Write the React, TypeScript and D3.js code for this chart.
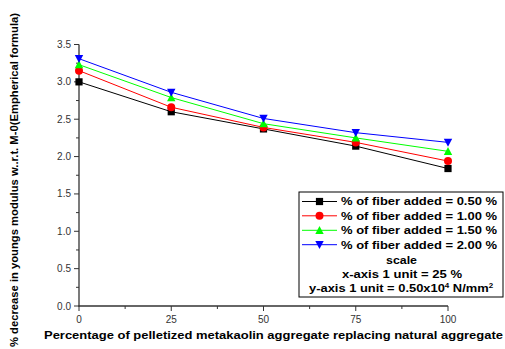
import React from "react";
import * as d3 from "d3";

const xValues = [0, 25, 50, 75, 100];
const fiber050 = [3.0, 2.6, 2.37, 2.14, 1.84];
const fiber100 = [3.15, 2.66, 2.39, 2.19, 1.94];
const fiber150 = [3.23, 2.79, 2.44, 2.25, 2.07];
const fiber200 = [3.31, 2.86, 2.51, 2.32, 2.19];
const seriesNames = [
  "% of fiber added = 0.50 %",
  "% of fiber added = 1.00 %",
  "% of fiber added = 1.50 %",
  "% of fiber added = 2.00 %",
];
const xTicks = [0, 25, 50, 75, 100];
const yTicks = [0, 0.5, 1.0, 1.5, 2.0, 2.5, 3.0, 3.5];

const W = 505;
const H = 349;
const FONT = "Liberation Sans, Arial, sans-serif";

type Shape = "square" | "circle" | "up" | "down";

function Marker({ shape, cx, cy, color }: { shape: Shape; cx: number; cy: number; color: string }) {
  const s = 3.6;
  if (shape === "square")
    return <rect x={cx - s} y={cy - s} width={2 * s} height={2 * s} fill={color} />;
  if (shape === "circle") return <circle cx={cx} cy={cy} r={s + 0.4} fill={color} />;
  if (shape === "up")
    return (
      <path d={`M${cx},${cy - s - 0.8}L${cx + s + 0.6},${cy + s}L${cx - s - 0.6},${cy + s}Z`} fill={color} />
    );
  return (
    <path d={`M${cx},${cy + s + 0.8}L${cx + s + 0.6},${cy - s}L${cx - s - 0.6},${cy - s}Z`} fill={color} />
  );
}

export default function App() {
  const x = d3.scaleLinear().domain([0, 100]).range([79, 448]);
  const y = d3.scaleLinear().domain([0, 3.5]).range([306, 44.5]);
  const series = [
    { values: fiber050, color: "#000000", shape: "square" as Shape },
    { values: fiber100, color: "#ff0000", shape: "circle" as Shape },
    { values: fiber150, color: "#00ff00", shape: "up" as Shape },
    { values: fiber200, color: "#0000ff", shape: "down" as Shape },
  ];
  const line = d3
    .line<number>()
    .x((_, i) => x(xValues[i]))
    .y((d) => y(d));

  const xMinor = d3.range(12.5, 100, 25);
  const yMinor = d3.range(0.25, 3.5, 0.5);
  const axisColor = "#333";

  const lg = { x: 299, y: 192, w: 204, h: 105 };
  const rowY = [201.5, 215.8, 230.3, 244.7];
  const adj = "spacingAndGlyphs";

  return (
    <svg width={W} height={H} style={{ position: "absolute", left: 0, top: 0, background: "#fff" }}>
      <rect x={0} y={0} width={W} height={H} fill="#fff" />
      {/* axes */}
      <line x1={x(0)} x2={x(0)} y1={y(0) + 0.5} y2={y(3.5)} stroke={axisColor} strokeWidth={1.3} />
      <line x1={x(0) - 0.5} x2={x(100)} y1={y(0)} y2={y(0)} stroke={axisColor} strokeWidth={1.3} />
      {yTicks.map((t) => (
        <g key={"y" + t}>
          <line x1={x(0) - 5} x2={x(0)} y1={y(t)} y2={y(t)} stroke={axisColor} strokeWidth={1} />
          <text x={x(0) - 8} y={y(t) + 3.5} textAnchor="end" fontFamily={FONT} fontSize={10} fill="#333">
            {t.toFixed(1)}
          </text>
        </g>
      ))}
      {yMinor.map((t) => (
        <line key={"ym" + t} x1={x(0) - 3} x2={x(0)} y1={y(t)} y2={y(t)} stroke={axisColor} strokeWidth={1} />
      ))}
      {xTicks.map((t) => (
        <g key={"x" + t}>
          <line x1={x(t)} x2={x(t)} y1={y(0)} y2={y(0) + 5} stroke={axisColor} strokeWidth={1} />
          <text x={x(t)} y={y(0) + 17} textAnchor="middle" fontFamily={FONT} fontSize={10} fill="#333">
            {t}
          </text>
        </g>
      ))}
      {xMinor.map((t) => (
        <line key={"xm" + t} x1={x(t)} x2={x(t)} y1={y(0)} y2={y(0) + 3} stroke={axisColor} strokeWidth={1} />
      ))}
      {/* series */}
      {series.map((s, k) => (
        <g key={"s" + k}>
          <path d={line(s.values) || ""} fill="none" stroke={s.color} strokeWidth={1} />
          {s.values.map((v, i) => (
            <Marker key={i} shape={s.shape} cx={x(xValues[i])} cy={y(v)} color={s.color} />
          ))}
        </g>
      ))}
      {/* axis titles */}
      <text
        x={44}
        y={338.5}
        textLength={459}
        lengthAdjust={adj}
        fontFamily={FONT}
        fontSize={11}
        fontWeight="bold"
        fill="#000"
      >
        Percentage of pelletized metakaolin aggregate replacing natural aggregate
      </text>
      <text
        transform={`translate(18.3,347) rotate(-90)`}
        textLength={334}
        lengthAdjust={adj}
        fontFamily={FONT}
        fontSize={11}
        fontWeight="bold"
        fill="#000"
      >
        % decrease in youngs modulus w..r.t. M-0(Empherical formula)
      </text>
      {/* legend */}
      <rect x={lg.x} y={lg.y} width={lg.w} height={lg.h} fill="#fff" stroke="#000" strokeWidth={1} />
      {series.map((s, k) => (
        <g key={"l" + k}>
          <line x1={302} x2={337} y1={rowY[k]} y2={rowY[k]} stroke={s.color} strokeWidth={1} />
          <Marker shape={s.shape} cx={319.5} cy={rowY[k]} color={s.color} />
          <text
            x={341}
            y={rowY[k] + 3.8}
            textLength={156}
            lengthAdjust={adj}
            fontFamily={FONT}
            fontSize={10.5}
            fontWeight="bold"
            fill="#000"
          >
            {seriesNames[k]}
          </text>
        </g>
      ))}
      <text x={386} y={263.5} textLength={31} lengthAdjust={adj} fontFamily={FONT} fontSize={10.5} fontWeight="bold">
        scale
      </text>
      <text x={342} y={278} textLength={120} lengthAdjust={adj} fontFamily={FONT} fontSize={10.5} fontWeight="bold">
        x-axis 1 unit = 25 %
      </text>
      <g transform="translate(309,292) scale(1.23,1)">
        <text x={0} y={0} fontFamily={FONT} fontSize={10.5} fontWeight="bold">
          y-axis 1 unit = 0.50x10
          <tspan fontSize={6.5} dy={-4}>4</tspan>
          <tspan dy={4}> N/mm</tspan>
          <tspan fontSize={6.5} dy={-4}>2</tspan>
        </text>
      </g>
    </svg>
  );
}
